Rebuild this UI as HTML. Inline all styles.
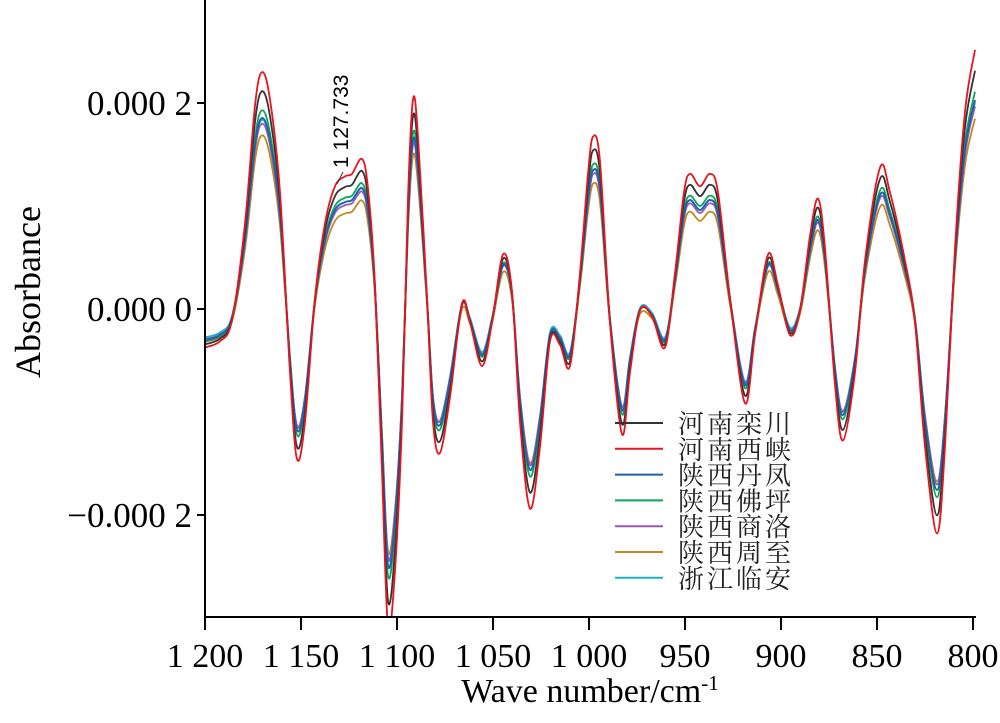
<!DOCTYPE html>
<html><head><meta charset="utf-8"><style>
body{margin:0;background:#fff;}
svg text{font-family:"Liberation Serif","Noto Serif CJK SC",serif;}
</style></head><body>
<svg id="s" width="1000" height="718" xmlns="http://www.w3.org/2000/svg">
<g id="curves" fill="none" stroke-width="1.8" stroke-linejoin="round"></g>
<g stroke="#000" stroke-width="2" fill="none">
<line x1="205" y1="0" x2="205" y2="618"/>
<line x1="204" y1="617" x2="976" y2="617"/>
<line x1="197" y1="103" x2="205" y2="103"/>
<line x1="197" y1="309" x2="205" y2="309"/>
<line x1="197" y1="515" x2="205" y2="515"/>
</g>
<g id="xt" stroke="#000" stroke-width="2"></g>
<g font-size="35" fill="#000" text-anchor="end">
<text x="192" y="115">0.000 2</text>
<text x="192" y="321">0.000 0</text>
<text x="192" y="527">−0.000 2</text>
</g>
<g font-size="34" fill="#000" text-anchor="middle" id="xl"></g>
<text x="590" y="702" font-size="34" text-anchor="middle">Wave number/cm<tspan font-size="21" dy="-12">-1</tspan></text>
<text transform="translate(40,292) rotate(-90)" font-size="36" text-anchor="middle">Absorbance</text>
<text transform="translate(348,168) rotate(-90)" font-size="21" style="font-family:'Liberation Sans',sans-serif">1 127.733</text>
<line x1="337" y1="184" x2="343" y2="172" stroke="#333" stroke-width="1"/>
<g id="leg"></g>
</svg>
<script>
var NS="http://www.w3.org/2000/svg";
var base=[[205,340],[220,335],[232,318],[245,240],[255,145],[262,118],[270,140],[280,215],[290,360],[297,430],[305,400],[315,300],[325,240],[335,210],[345,202],[352,200],[362,188],[368,212],[375,290],[382,440],[388,565],[395,520],[402,400],[408,220],[413,140],[418,170],[427,300],[433,400],[440,425],[450,380],[462,305],[470,320],[482,355],[492,320],[503,265],[512,295],[520,400],[530,470],[540,420],[550,335],[560,338],[570,355],[580,280],[588,200],[593,170],[600,190],[610,320],[622,410],[630,360],[640,310],[652,315],[665,340],[675,280],[684,215],[690,200],[700,210],[710,200],[718,215],[730,300],[745,385],[755,330],[768,265],[778,290],[790,330],[800,310],[810,250],[818,220],[825,260],[835,370],[843,415],[855,360],[865,270],[880,195],[890,215],[905,270],[915,320],[925,420],[937,490],[945,420],[955,260],[965,150],[975,100]];
var series=[["#333",1.14,0],["#e8141e",1.24,0],["#1f5fad",1.0,0],["#0ea55a",1.04,0],["#9b59b6",0.97,0],["#c08a1e",0.93,4],["#17b6c0",0.98,-2]];
function path(sc,off){
  var p=base.map(function(q){return [q[0],309+(q[1]-309)*sc+off];});
  var d="M"+p[0][0]+","+p[0][1];
  for(var i=0;i<p.length-1;i++){
    var p0=p[Math.max(0,i-1)],p1=p[i],p2=p[i+1],p3=p[Math.min(p.length-1,i+2)];
    var c1=[p1[0]+(p2[0]-p0[0])/6,p1[1]+(p2[1]-p0[1])/6];
    var c2=[p2[0]-(p3[0]-p1[0])/6,p2[1]-(p3[1]-p1[1])/6];
    d+=" C"+c1[0].toFixed(1)+","+c1[1].toFixed(1)+" "+c2[0].toFixed(1)+","+c2[1].toFixed(1)+" "+p2[0]+","+p2[1];
  }
  return d;
}
var g=document.getElementById("curves");
var order=[6,5,4,3,2,0,1];
order.forEach(function(k){var s=series[k];var e=document.createElementNS(NS,"path");
e.setAttribute("d",path(s[1],s[2]));e.setAttribute("stroke",s[0]);g.appendChild(e);});
var cover=document.createElementNS(NS,"rect");cover.setAttribute("x",0);cover.setAttribute("y",618);cover.setAttribute("width",1000);cover.setAttribute("height",100);cover.setAttribute("fill","#fff");g.appendChild(cover);
var xt=document.getElementById("xt"),xl=document.getElementById("xl");
var labs=["1 200","1 150","1 100","1 050","1 000","950","900","850","800"];
for(var i=0;i<9;i++){var x=205+i*96;var l=document.createElementNS(NS,"line");
l.setAttribute("x1",x);l.setAttribute("x2",x);l.setAttribute("y1",617);l.setAttribute("y2",630);xt.appendChild(l);
var t=document.createElementNS(NS,"text");t.setAttribute("x",x);t.setAttribute("y",667);t.textContent=labs[i];xl.appendChild(t);}
var names=["河南栾川","河南西峡","陕西丹凤","陕西佛坪","陕西商洛","陕西周至","浙江临安"];
var lg=document.getElementById("leg");
for(var i=0;i<7;i++){var y=423+i*25.8;var l=document.createElementNS(NS,"line");
l.setAttribute("x1",615);l.setAttribute("x2",663);l.setAttribute("y1",y);l.setAttribute("y2",y);l.setAttribute("stroke",series[i][0]);l.setAttribute("stroke-width",2);lg.appendChild(l);
var t=document.createElementNS(NS,"text");t.setAttribute("x",678);t.setAttribute("y",y+10);t.setAttribute("font-size","26");t.setAttribute("letter-spacing","3");t.setAttribute("fill","#222");t.textContent=names[i];lg.appendChild(t);}
</script>
</body></html>
